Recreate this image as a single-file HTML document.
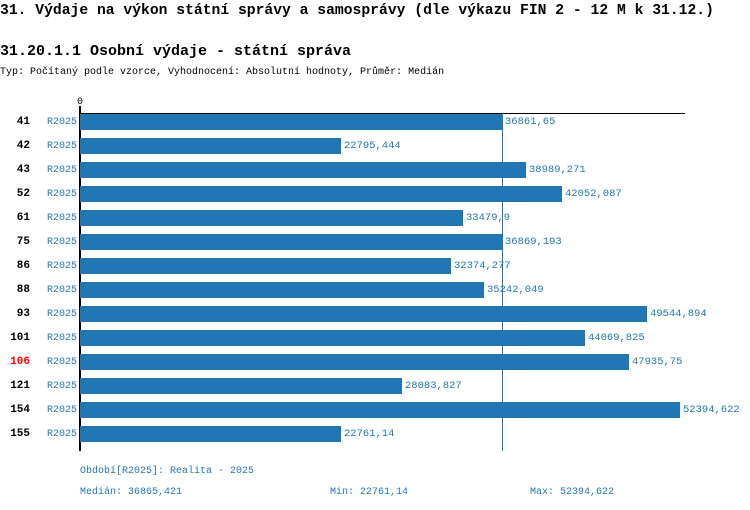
<!DOCTYPE html>
<html><head><meta charset="utf-8"><style>
body{margin:0;width:750px;height:510px;background:#fff;position:relative;overflow:hidden;font-family:"Liberation Mono",monospace}
.a{position:absolute;white-space:nowrap}
.t{font-size:14.7px;font-weight:bold;color:#000}
.s{font-size:10px}
.b{position:absolute;left:80px;height:16px;background:#2077b4}
.l{position:absolute;font-size:11px;font-weight:bold;width:30px;text-align:right;left:0}
.r{position:absolute;left:47px;font-size:10px;color:#2077b4}
.v{position:absolute;font-size:10.5px;color:#2077b4}
</style></head><body>
<div class="a t" style="left:0;top:3px">31. Výdaje na výkon státní správy a samosprávy (dle výkazu FIN 2 - 12 M k 31.12.)</div>
<div class="a t" style="left:0;top:43px;font-size:15px">31.20.1.1 Osobní výdaje - státní správa</div>
<div class="a s" style="left:0;top:67px">Typ: Počítaný podle vzorce, Vyhodnocení: Absolutní hodnoty, Průměr: Medián</div>
<div class="a s" style="left:77px;top:97px">0</div>
<div class="a" style="left:80px;top:113px;width:605px;height:1px;background:#000"></div>
<div class="a" style="left:79px;top:106px;width:2px;height:345px;background:#000"></div>
<div class="a" style="left:502px;top:113px;width:1px;height:338px;background:#2077b4"></div>
<div id="rows"></div>
<div class="a s" style="left:80px;top:466px;color:#2077b4">Období[R2025]: Realita - 2025</div>
<div class="a s" style="left:80px;top:487px;color:#2077b4">Medián: 36865,421</div>
<div class="a s" style="left:330px;top:487px;color:#2077b4">Min: 22761,14</div>
<div class="a s" style="left:530px;top:487px;color:#2077b4">Max: 52394,622</div>
<script>
var d=[["41",36861.65,"36861,65"],["42",22795.444,"22795,444"],["43",38989.271,"38989,271"],["52",42052.087,"42052,087"],["61",33479.9,"33479,9"],["75",36869.193,"36869,193"],["86",32374.277,"32374,277"],["88",35242.049,"35242,049"],["93",49544.894,"49544,894"],["101",44069.825,"44069,825"],["106",47935.75,"47935,75"],["121",28083.827,"28083,827"],["154",52394.622,"52394,622"],["155",22761.14,"22761,14"]];
var h="";d.forEach(function(r,i){var y=114+24*i,w=Math.round(r[1]*600/52394.622);
h+='<div class="l" style="top:'+(y+2)+'px;'+(r[0]=="106"?'color:#f00':'')+'">'+r[0]+'</div><div class="r" style="top:'+(y+3)+'px">R2025</div><div class="b" style="top:'+y+'px;width:'+w+'px"></div><div class="v" style="left:'+(83+w)+'px;top:'+(y+2)+'px">'+r[2]+'</div>';});
document.getElementById("rows").innerHTML=h;
</script>
</body></html>
